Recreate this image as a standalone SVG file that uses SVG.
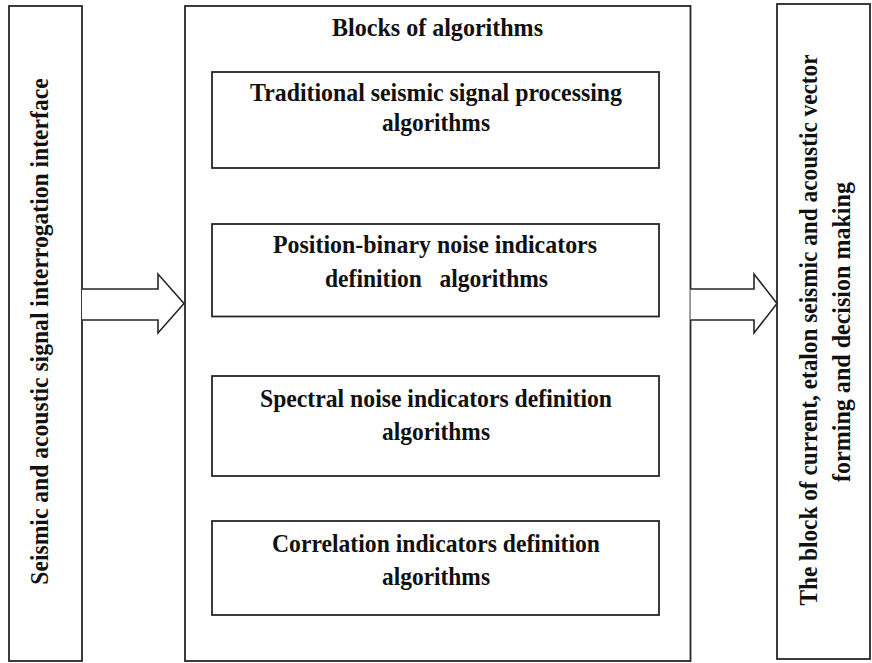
<svg xmlns="http://www.w3.org/2000/svg" width="872" height="663" viewBox="0 0 872 663">
<style>
.box{fill:#fff;stroke:#262626;stroke-width:1.8}
.arrow{fill:#fff;stroke:#262626;stroke-width:1.6;stroke-linejoin:miter}
text{font-family:"Liberation Serif","Times New Roman",serif;font-weight:bold;font-size:26px;fill:#111;text-anchor:middle}
</style>
<rect width="872" height="663" fill="#fff"/>
<g id="interface">
<rect class="box" x="9" y="6" width="73" height="655"/>
<text transform="translate(48,331.5) rotate(-90) scale(0.908,1)">Seismic and acoustic signal interrogation interface</text>
</g>
<g id="algorithms">
<rect class="box" x="185" y="6" width="505.5" height="655"/>
<text x="437.5" y="36" textLength="211" lengthAdjust="spacingAndGlyphs">Blocks of algorithms</text>
</g>
<g id="traditional">
<rect class="box" x="212" y="72" width="447" height="96"/>
<text x="436" y="101" textLength="372" lengthAdjust="spacingAndGlyphs">Traditional seismic signal processing</text>
<text x="436" y="131" textLength="108" lengthAdjust="spacingAndGlyphs">algorithms</text>
</g>
<g id="position-binary">
<rect class="box" x="212" y="224" width="447" height="92.5"/>
<text x="435" y="253" textLength="324" lengthAdjust="spacingAndGlyphs">Position-binary noise indicators</text>
<text x="436.5" y="287" textLength="223" lengthAdjust="spacingAndGlyphs" xml:space="preserve">definition   algorithms</text>
</g>
<g id="spectral">
<rect class="box" x="212" y="376" width="447" height="100"/>
<text x="436" y="407" textLength="352" lengthAdjust="spacingAndGlyphs">Spectral noise indicators definition</text>
<text x="436" y="440" textLength="108" lengthAdjust="spacingAndGlyphs">algorithms</text>
</g>
<g id="correlation">
<rect class="box" x="212" y="521" width="447" height="94"/>
<text x="436" y="552" textLength="328" lengthAdjust="spacingAndGlyphs">Correlation indicators definition</text>
<text x="436" y="585" textLength="108" lengthAdjust="spacingAndGlyphs">algorithms</text>
</g>
<g id="decision">
<rect class="box" x="777" y="4" width="93" height="655"/>
<text transform="translate(817,330) rotate(-90) scale(0.896,1)">The block of current, etalon seismic and acoustic vector</text>
<text transform="translate(850,332) rotate(-90) scale(0.925,1)">forming and decision making</text>
</g>
<g id="connectors">
<polyline class="arrow" points="82,289 158,289 158,274 184,303.5 158,333 158,320 82,320"/>
<polyline class="arrow" points="690.5,289 754,289 754,274 777,303.5 754,333 754,320 690.5,320"/>
</g>
</svg>
